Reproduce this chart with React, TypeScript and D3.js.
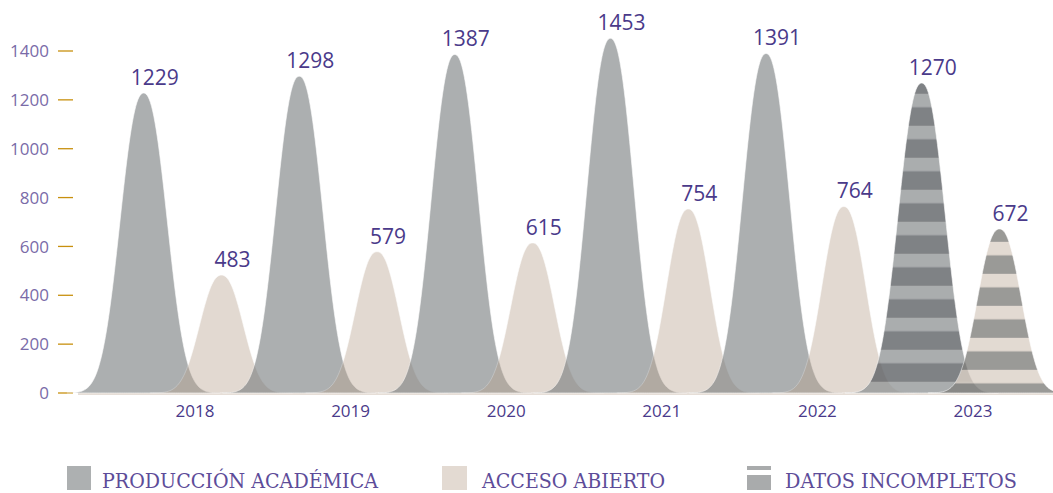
import React from 'react'
import * as d3 from 'd3'

// values
const YEARS = [2018, 2019, 2020, 2021, 2022, 2023]
const PRODUCCION = [1229, 1298, 1387, 1453, 1391, 1270]
const ACCESO = [483, 579, 615, 754, 764, 672]
const INCOMPLETE_YEARS = [2023]
const Y_TICKS = [0, 200, 400, 600, 800, 1000, 1200, 1400]
const LEGEND_LABELS = ['PRODUCCIÓN ACADÉMICA', 'ACCESO ABIERTO', 'DATOS INCOMPLETOS']

const WIDTH = 1053
const HEIGHT = 493

// colours as they look on white
const PROD_COLOR = '#adb0b1'
const PROD_STRIPE_LIGHT = '#aaadae'
const PROD_STRIPE_DARK = '#808285'
const ACC_COLOR = '#e3dad2'
const ACC_STRIPE = '#9b9a98'
const LABEL_COLOR = '#4a3a8a'
const TICK_LABEL_COLOR = '#7a6ba8'
const TICK_COLOR = '#c8900e'
const LEGEND_TEXT = '#5d4c99'
const SANS = '"Open Sans", "Noto Sans", sans-serif'
const SERIF = '"DejaVu Serif", serif'

// colour that, drawn at opacity a on white, gives the visible colour c
const baseFor = (c: string, a: number) => {
  const rgb = d3.rgb(c)
  const f = (v: number) => Math.max(0, Math.min(255, Math.round((v - (1 - a) * 255) / a)))
  return d3.rgb(f(rgb.r), f(rgb.g), f(rgb.b)).formatHex()
}

export default function App() {
  const x = d3.scaleLinear().domain([2018, 2023]).range([195, 973])
  const y = d3.scaleLinear().domain([0, 1400]).range([393, 51])

  // bell profile (in sigma units), a little flatter on top than a gaussian
  const profile = d3.range(-3.4, 3.4001, 0.1)
  const bell = (s: number) => Math.exp(-Math.pow(Math.abs(s), 2.3) / 2)

  const peakPath = (center: number, sigma: number, value: number) => {
    const area = d3.area<number>()
      .x(s => x(center + s * sigma))
      .y0(y(0))
      .y1(s => y(value * bell(s)))
      .curve(d3.curveBasis)
    return area(profile) || ''
  }

  const peaks: Array<{ key: string, path: string, fill: string, opacity: number, top: number, cx: number, value: number }> = []
  YEARS.forEach((year, i) => {
    const incomplete = INCOMPLETE_YEARS.includes(year)
    const pc = year - 0.33
    const ac = year + 0.17
    const pa = incomplete ? 0.8 : 0.6
    const aa = incomplete ? 0.8 : 0.4
    peaks.push({
      key: `p${year}`,
      path: peakPath(pc, 0.145, PRODUCCION[i]),
      fill: incomplete ? `url(#stripe-p${year})` : baseFor(PROD_COLOR, pa),
      opacity: pa,
      top: y(PRODUCCION[i]),
      cx: x(pc),
      value: PRODUCCION[i]
    })
    peaks.push({
      key: `a${year}`,
      path: peakPath(ac, 0.135, ACCESO[i]),
      fill: incomplete ? `url(#stripe-a${year})` : baseFor(ACC_COLOR, aa),
      opacity: aa,
      top: y(ACCESO[i]),
      cx: x(ac),
      value: ACCESO[i]
    })
  })

  return (
    <svg width={WIDTH} height={HEIGHT} style={{ position: 'absolute', left: 0, top: 0, background: '#fff' }}>
      <defs>
        {INCOMPLETE_YEARS.map(year => {
          const i = YEARS.indexOf(year)
          const pTop = y(PRODUCCION[i])
          const aTop = y(ACCESO[i])
          return (
            <React.Fragment key={year}>
              <pattern id={`stripe-p${year}`} patternUnits="userSpaceOnUse" x={0} y={pTop + 11} width={WIDTH} height={32}>
                <rect width={WIDTH} height={32} fill={baseFor(PROD_STRIPE_DARK, 0.8)} />
                <rect width={WIDTH} height={13.5} fill={baseFor(PROD_STRIPE_LIGHT, 0.8)} />
              </pattern>
              <pattern id={`stripe-a${year}`} patternUnits="userSpaceOnUse" x={0} y={aTop + 13} width={WIDTH} height={32}>
                <rect width={WIDTH} height={32} fill={baseFor(ACC_STRIPE, 0.8)} />
                <rect width={WIDTH} height={13.5} fill={baseFor(ACC_COLOR, 0.8)} />
              </pattern>
            </React.Fragment>
          )
        })}
      </defs>

      {/* baseline */}
      <line x1={78} x2={WIDTH} y1={y(0) + 1} y2={y(0) + 1} stroke="#e6ded7" strokeWidth={2} />

      {/* y axis */}
      {Y_TICKS.map(t => (
        <g key={t} transform={`translate(0,${y(t)})`}>
          <line x1={58} x2={73} stroke={TICK_COLOR} strokeWidth={1.3} />
          <text x={49} dy="0.36em" textAnchor="end" fontFamily={SANS} fontSize={17} fill={TICK_LABEL_COLOR}>{t}</text>
        </g>
      ))}

      {/* peaks */}
      {peaks.map(p => (
        <path key={p.key} d={p.path} fill={p.fill} opacity={p.opacity} stroke="#ffffff" strokeWidth={1} strokeOpacity={0.6} />
      ))}

      {/* value labels */}
      {peaks.map(p => (
        <text key={`l${p.key}`} x={p.cx + 11} y={p.top - 8} textAnchor="middle" fontFamily={SANS} fontSize={21} fill={LABEL_COLOR}>{p.value}</text>
      ))}

      {/* year labels */}
      {YEARS.map(year => (
        <text key={year} x={x(year)} y={417} textAnchor="middle" fontFamily={SANS} fontSize={17} fill={LABEL_COLOR}>{year}</text>
      ))}

      {/* legend */}
      <g>
        <rect x={67} y={466} width={24} height={24} fill={PROD_COLOR} />
        <text x={102} y={488} fontFamily={SERIF} fontSize={20.5} fill={LEGEND_TEXT} textLength={276} lengthAdjust="spacingAndGlyphs">{LEGEND_LABELS[0]}</text>
        <rect x={442} y={466} width={25} height={24} fill={ACC_COLOR} />
        <text x={482} y={488} fontFamily={SERIF} fontSize={20.5} fill={LEGEND_TEXT} textLength={183} lengthAdjust="spacingAndGlyphs">{LEGEND_LABELS[1]}</text>
        <rect x={747} y={466} width={24} height={4} fill="#a9abac" />
        <rect x={747} y={475} width={24} height={15} fill="#a9abac" />
        <text x={785} y={488} fontFamily={SERIF} fontSize={20.5} fill={LEGEND_TEXT} textLength={232} lengthAdjust="spacingAndGlyphs">{LEGEND_LABELS[2]}</text>
      </g>
    </svg>
  )
}
